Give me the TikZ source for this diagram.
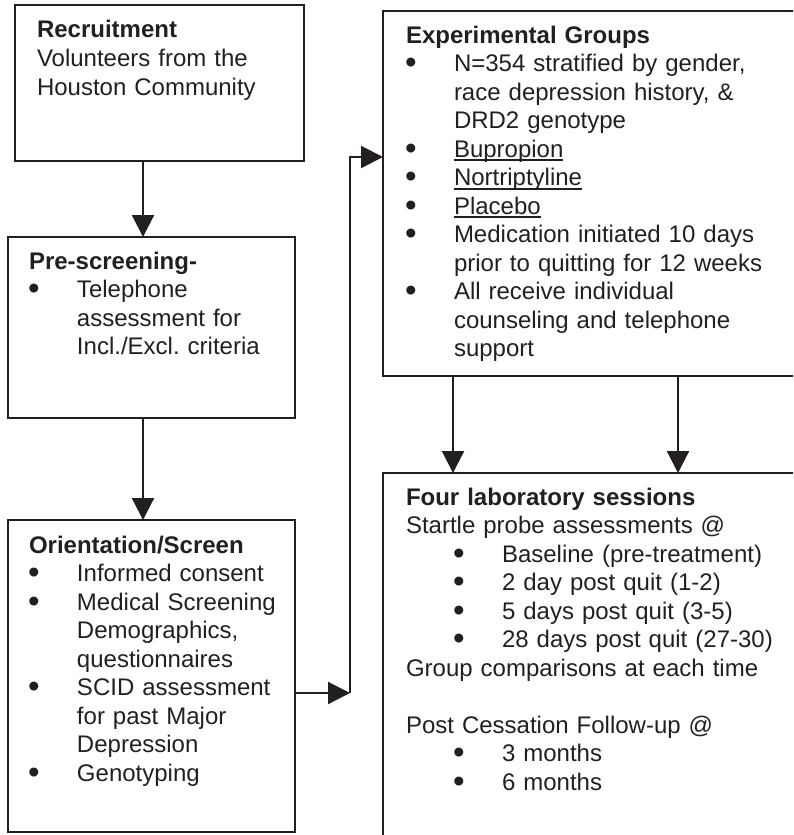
\documentclass[tikz,border=0pt]{standalone}
\usepackage{fontspec}
\setmainfont{Liberation Sans}
\usetikzlibrary{arrows.meta,calc}
\definecolor{ink}{RGB}{35,31,32}
\newcommand\bigbul{\raisebox{-1.1pt}{\fontsize{16.5}{14}\selectfont\textbullet}}
\newcommand\bitem{\par\hangindent=24pt\hangafter=1\noindent\makebox[24pt][l]{\hspace{-0.5pt}\bigbul}}
\newcommand\bitemb{\par\noindent\hspace*{24pt}\makebox[24pt][l]{\hspace{-0.5pt}\bigbul}}
\newcommand\myul[1]{\setbox0=\hbox{#1}\rlap{\vrule width \wd0 height -1.1pt depth 2.1pt}\box0}
\begin{document}
\begin{tikzpicture}[x=0.5pt,y=-0.5pt,
  box/.style={draw=ink,line width=1.1pt,anchor=north west,inner sep=0pt,outer sep=0pt},
  txt/.style={anchor=base west,inner sep=0pt,outer sep=0pt,text=ink,
     font=\fontsize{12}{14.25}\selectfont\frenchspacing\raggedright},
  arr/.style={draw=ink,line width=1.1pt,-{Triangle[length=11pt,width=11pt]}}]
\useasboundingbox (0,0) rectangle (793,835);
\clip (0,0) rectangle (793,835);
% boxes
\node[box,minimum width=144.5pt,minimum height=78pt] (rec) at (15,5) {};
\node[box,minimum width=143.5pt,minimum height=90.5pt] (pre) at (8,237) {};
\node[box,minimum width=143.5pt,minimum height=156pt] (ori) at (8,520) {};
\node[box,minimum width=210pt,minimum height=182.5pt] (exp) at (383,11) {};
\node[box,minimum width=210pt,minimum height=200pt] (four) at (383,473) {};
% texts
\node[txt,text width=140pt] (rect) at (37,38) {\textbf{Recruitment}\newline Volunteers from the\newline Houston Community\par};
\node[txt,text width=140pt] (pret) at (29,269) {\textbf{Pre-screening-}\bitem Telephone\newline assessment for\newline Incl./Excl. criteria\par};
\node[txt,text width=140pt] (orit) at (29,553) {\textbf{Orientation/Screen}\bitem Informed consent\bitem Medical Screening\newline Demographics,\newline questionnaires\bitem SCID assessment\newline for past Major\newline Depression\bitem Genotyping\par};
\node[txt,text width=200pt] (expt) at (406,43) {\textbf{Experimental Groups}\bitem N=354 stratified by gender,\newline race depression history, \&\newline DRD2 genotype\bitem \myul{Bupropion}\bitem \myul{Nortriptyline}\bitem \myul{Placebo}\bitem Medication initiated 10 days\newline prior to quitting for 12 weeks\bitem All receive individual\newline counseling and telephone\newline support\par};
\node[txt,text width=200pt] (fourt) at (406,505) {\textbf{Four laboratory sessions}\par\noindent Startle probe assessments @\bitemb Baseline (pre-treatment)\bitemb 2 day post quit (1-2)\bitemb 5 days post quit (3-5)\bitemb 28 days post quit (27-30)\par\noindent Group comparisons at each time\par\noindent\mbox{}\par\noindent Post Cessation Follow-up @\bitemb 3 months\bitemb 6 months\par};
% connectors
\draw[arr] ($(rec.south west)+(128,0)$) coordinate (r1) -- (r1 |- pre.north);
\draw[arr] ($(pre.south west)+(135,0)$) coordinate (p1) -- (p1 |- ori.north);
\coordinate (jbot) at (350,693);
\coordinate (jtop) at (350,157);
\draw[arr] (jbot -| ori.east) -- (jbot);
\draw[arr] (jbot) -- (jtop) -- (jtop -| exp.west);
\draw[arr] ($(exp.south west)+(70,0)$) coordinate (e1) -- (e1 |- four.north);
\draw[arr] ($(exp.south west)+(295,0)$) coordinate (e2) -- (e2 |- four.north);
\end{tikzpicture}
\end{document}
